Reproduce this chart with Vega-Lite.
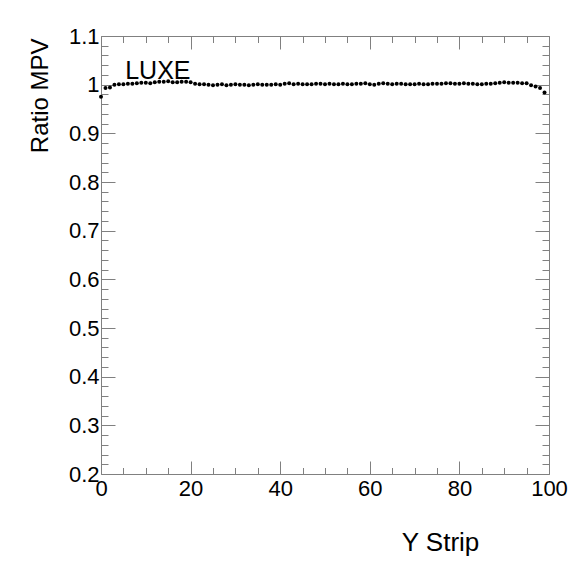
{
  "$schema": "https://vega.github.io/schema/vega-lite/v6.json",
  "width": 448,
  "height": 438,
  "autosize": {"type": "none"},
  "padding": {"left": 101, "top": 36, "right": 23, "bottom": 88},
  "background": "white",
  "datasets": {
    "points": [
      {"strip": 0, "ratio": 0.975}, {"strip": 1, "ratio": 0.993}, {"strip": 2, "ratio": 0.994}, {"strip": 3, "ratio": 1.000}, {"strip": 4, "ratio": 1.001},
      {"strip": 5, "ratio": 1.001}, {"strip": 6, "ratio": 1.002}, {"strip": 7, "ratio": 1.002}, {"strip": 8, "ratio": 1.003}, {"strip": 9, "ratio": 1.004},
      {"strip": 10, "ratio": 1.004}, {"strip": 11, "ratio": 1.003}, {"strip": 12, "ratio": 1.005}, {"strip": 13, "ratio": 1.006}, {"strip": 14, "ratio": 1.006},
      {"strip": 15, "ratio": 1.007}, {"strip": 16, "ratio": 1.005}, {"strip": 17, "ratio": 1.005}, {"strip": 18, "ratio": 1.006}, {"strip": 19, "ratio": 1.006},
      {"strip": 20, "ratio": 1.005}, {"strip": 21, "ratio": 1.002}, {"strip": 22, "ratio": 1.001}, {"strip": 23, "ratio": 1.001}, {"strip": 24, "ratio": 1.000},
      {"strip": 25, "ratio": 0.999}, {"strip": 26, "ratio": 1.000}, {"strip": 27, "ratio": 1.001}, {"strip": 28, "ratio": 0.999}, {"strip": 29, "ratio": 1.000},
      {"strip": 30, "ratio": 1.001}, {"strip": 31, "ratio": 1.000}, {"strip": 32, "ratio": 1.000}, {"strip": 33, "ratio": 0.999}, {"strip": 34, "ratio": 1.000},
      {"strip": 35, "ratio": 1.001}, {"strip": 36, "ratio": 1.000}, {"strip": 37, "ratio": 1.000}, {"strip": 38, "ratio": 1.000}, {"strip": 39, "ratio": 1.001},
      {"strip": 40, "ratio": 1.000}, {"strip": 41, "ratio": 1.002}, {"strip": 42, "ratio": 1.003}, {"strip": 43, "ratio": 1.001}, {"strip": 44, "ratio": 1.002},
      {"strip": 45, "ratio": 1.001}, {"strip": 46, "ratio": 1.001}, {"strip": 47, "ratio": 1.001}, {"strip": 48, "ratio": 1.002}, {"strip": 49, "ratio": 1.002},
      {"strip": 50, "ratio": 1.001}, {"strip": 51, "ratio": 1.002}, {"strip": 52, "ratio": 1.001}, {"strip": 53, "ratio": 1.001}, {"strip": 54, "ratio": 1.002},
      {"strip": 55, "ratio": 1.001}, {"strip": 56, "ratio": 1.001}, {"strip": 57, "ratio": 1.002}, {"strip": 58, "ratio": 1.002}, {"strip": 59, "ratio": 1.003},
      {"strip": 60, "ratio": 1.001}, {"strip": 61, "ratio": 1.000}, {"strip": 62, "ratio": 1.002}, {"strip": 63, "ratio": 1.003}, {"strip": 64, "ratio": 1.002},
      {"strip": 65, "ratio": 1.001}, {"strip": 66, "ratio": 1.002}, {"strip": 67, "ratio": 1.002}, {"strip": 68, "ratio": 1.001}, {"strip": 69, "ratio": 1.001},
      {"strip": 70, "ratio": 1.001}, {"strip": 71, "ratio": 1.002}, {"strip": 72, "ratio": 1.001}, {"strip": 73, "ratio": 1.001}, {"strip": 74, "ratio": 1.002},
      {"strip": 75, "ratio": 1.002}, {"strip": 76, "ratio": 1.002}, {"strip": 77, "ratio": 1.003}, {"strip": 78, "ratio": 1.003}, {"strip": 79, "ratio": 1.002},
      {"strip": 80, "ratio": 1.002}, {"strip": 81, "ratio": 1.003}, {"strip": 82, "ratio": 1.002}, {"strip": 83, "ratio": 1.002}, {"strip": 84, "ratio": 1.001},
      {"strip": 85, "ratio": 1.001}, {"strip": 86, "ratio": 1.002}, {"strip": 87, "ratio": 1.002}, {"strip": 88, "ratio": 1.003}, {"strip": 89, "ratio": 1.004},
      {"strip": 90, "ratio": 1.005}, {"strip": 91, "ratio": 1.004}, {"strip": 92, "ratio": 1.004}, {"strip": 93, "ratio": 1.004}, {"strip": 94, "ratio": 1.003},
      {"strip": 95, "ratio": 1.003}, {"strip": 96, "ratio": 0.999}, {"strip": 97, "ratio": 0.996}, {"strip": 98, "ratio": 0.993}, {"strip": 99, "ratio": 0.984}
    ],
    "note": [{"label": "LUXE", "strip": 5.4, "ratio": 1.0125}]
  },
  "layer": [
    {
      "data": {"name": "points"},
      "mark": {"type": "circle", "color": "black", "size": 16, "opacity": 1},
      "encoding": {
        "x": {
          "field": "strip", "type": "quantitative",
          "scale": {"domain": [0, 100], "nice": false, "zero": false},
          "axis": {
            "orient": "bottom",
            "values": [0, 5, 10, 15, 20, 25, 30, 35, 40, 45, 50, 55, 60, 65, 70, 75, 80, 85, 90, 95, 100],
            "tickSize": {"condition": {"test": "datum.value % 20 == 0", "value": -13}, "value": -6.5},
            "labelExpr": "datum.value % 20 == 0 ? datum.label : ''",
            "labelPadding": 17,
            "labelOverlap": false,
            "labelFlush": false,
            "labelBaseline": "top",
            "title": "Y Strip",
            "titleFontSize": 26,
            "titleX": 339,
            "titleY": 76,
            "titleAlign": "center",
            "titleBaseline": "alphabetic",
            "titleAnchor": null
          }
        },
        "y": {
          "field": "ratio", "type": "quantitative",
          "scale": {"domain": [0.2, 1.1], "nice": false, "zero": false},
          "axis": {
            "orient": "left",
            "values": [0.2, 0.22, 0.24, 0.26, 0.28, 0.3, 0.32, 0.34, 0.36, 0.38, 0.4, 0.42, 0.44, 0.46, 0.48, 0.5, 0.52, 0.54, 0.56, 0.58, 0.6, 0.62, 0.64, 0.66, 0.68, 0.7, 0.72, 0.74, 0.76, 0.78, 0.8, 0.82, 0.84, 0.86, 0.88, 0.9, 0.92, 0.94, 0.96, 0.98, 1, 1.02, 1.04, 1.06, 1.08, 1.1],
            "tickSize": {"condition": {"test": "abs(datum.value * 10 - round(datum.value * 10)) < 0.001", "value": -14}, "value": -7},
            "labelExpr": "abs(datum.value * 10 - round(datum.value * 10)) < 0.001 ? format(datum.value, '.1~f') : ''",
            "labelPadding": 16,
            "labelOverlap": false,
            "labelFlush": false,
            "title": "Ratio MPV",
            "titleFontSize": 24,
            "titleAngle": -90,
            "titleX": -54,
            "titleY": 2,
            "titleAlign": "right",
            "titleBaseline": "alphabetic",
            "titleAnchor": null
          }
        }
      }
    },
    {
      "data": {"name": "note"},
      "mark": {"type": "text", "align": "left", "baseline": "alphabetic", "fontSize": 25, "font": "Liberation Sans", "color": "black"},
      "encoding": {
        "text": {"field": "label"},
        "x": {
          "field": "strip", "type": "quantitative",
          "scale": {"domain": [0, 100], "nice": false, "zero": false},
          "axis": {
            "orient": "top",
            "values": [0, 5, 10, 15, 20, 25, 30, 35, 40, 45, 50, 55, 60, 65, 70, 75, 80, 85, 90, 95, 100],
            "tickSize": {"condition": {"test": "datum.value % 20 == 0", "value": -13}, "value": -6.5},
            "labels": false,
            "title": null
          }
        },
        "y": {
          "field": "ratio", "type": "quantitative",
          "scale": {"domain": [0.2, 1.1], "nice": false, "zero": false},
          "axis": {
            "orient": "right",
            "values": [0.2, 0.22, 0.24, 0.26, 0.28, 0.3, 0.32, 0.34, 0.36, 0.38, 0.4, 0.42, 0.44, 0.46, 0.48, 0.5, 0.52, 0.54, 0.56, 0.58, 0.6, 0.62, 0.64, 0.66, 0.68, 0.7, 0.72, 0.74, 0.76, 0.78, 0.8, 0.82, 0.84, 0.86, 0.88, 0.9, 0.92, 0.94, 0.96, 0.98, 1, 1.02, 1.04, 1.06, 1.08, 1.1],
            "tickSize": {"condition": {"test": "abs(datum.value * 10 - round(datum.value * 10)) < 0.001", "value": -14}, "value": -7},
            "labels": false,
            "title": null
          }
        }
      }
    }
  ],
  "resolve": {"axis": {"x": "independent", "y": "independent"}},
  "config": {
    "view": {"stroke": "#808080", "strokeWidth": 1},
    "axis": {
      "domain": false,
      "grid": false,
      "tickColor": "#808080",
      "tickWidth": 1,
      "labelFont": "Liberation Sans",
      "labelFontSize": 22,
      "labelColor": "black",
      "titleFont": "Liberation Sans",
      "titleFontWeight": "normal",
      "titleColor": "black"
    }
  }
}
